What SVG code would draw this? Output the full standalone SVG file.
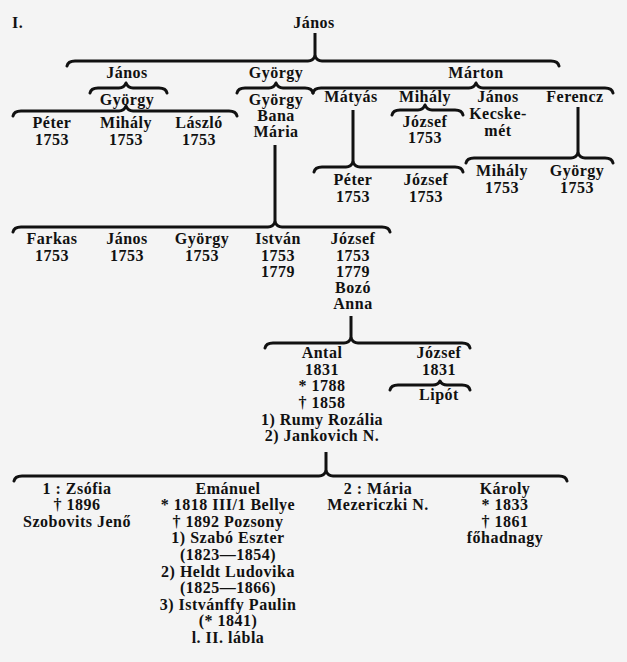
<svg xmlns="http://www.w3.org/2000/svg" width="627" height="662" viewBox="0 0 627 662">
<style>
  .bg { fill: #f4f4f4; }
  text { font-family: "Liberation Serif", "Times New Roman", serif; font-weight: bold; font-size: 16px; letter-spacing: 0.5px; fill: #111; text-anchor: middle; }
  .l { text-anchor: start; }
  .br { fill: none; stroke: #111; stroke-width: 3; stroke-linecap: round; stroke-linejoin: round; }
  .vl { fill: none; stroke: #111; stroke-width: 3; }
</style>
<rect class="bg" x="0" y="0" width="627" height="662"/>

<g id="connectors">
  <path class="vl" d="M315 33 V56"/>
  <path class="br" d="M67 66 Q68 61 75 61 L308 61 Q313 61 315 56 Q317 61 322 61 L551 61 Q558 61 559 66"/>
  <path class="br" d="M90 93 Q91 88 98 88 L119 88 Q124 88 126 83 Q128 88 133 88 L159 88 Q166 88 167 93"/>
  <path class="br" d="M13 116 Q14 111 21 111 L119 111 Q124 111 126 106 Q128 111 133 111 L229 111 Q236 111 237 116"/>
  <path class="br" d="M237 93 Q238 88 245 88 L269 88 Q274 88 276 83 Q278 88 283 88 L305 88 Q312 88 313 93"/>
  <path class="br" d="M313 93 Q314 88 321 88 L469 88 Q474 88 476 83 Q478 88 483 88 L605 88 Q612 88 613 93"/>
  <path class="br" d="M392 115 Q393 110 400 110 L418 110 Q423 110 425 105 Q427 110 432 110 L455 110 Q462 110 463 115"/>
  <path class="vl" d="M353 110 V162"/>
  <path class="br" d="M314 172 Q315 167 322 167 L346 167 Q351 167 353 162 Q355 167 360 167 L455 167 Q462 167 463 172"/>
  <path class="vl" d="M578 107 V153"/>
  <path class="br" d="M466 163 Q467 158 474 158 L571 158 Q576 158 578 153 Q580 158 585 158 L605 158 Q612 158 613 163"/>
  <path class="vl" d="M275 145 V222"/>
  <path class="br" d="M13 232 Q14 227 21 227 L268 227 Q273 227 275 222 Q277 227 282 227 L382 227 Q389 227 390 232"/>
  <path class="vl" d="M351 316 V338"/>
  <path class="br" d="M265 348 Q266 343 273 343 L344 343 Q349 343 351 338 Q353 343 358 343 L462 343 Q469 343 470 348"/>
  <path class="br" d="M390 390 Q391 385 398 385 L433 385 Q438 385 440 381 Q442 385 447 385 L462 385 Q469 385 470 390"/>
  <path class="vl" d="M326 452 V471"/>
  <path class="br" d="M14 481 Q15 476 22 476 L319 476 Q324 476 326 471 Q328 476 333 476 L559 476 Q566 476 567 481"/>
</g>

<g id="title"><text class="l" x="12" y="28">I.</text></g>
<g id="n-janos-root"><text x="314" y="28">János</text></g>

<g id="n-janos"><text x="127" y="78">János</text></g>
<g id="n-gyorgy-j"><text x="127" y="105">György</text></g>
<g id="n-peter"><text x="52" y="128">Péter</text><text x="52" y="145">1753</text></g>
<g id="n-mihaly"><text x="126" y="128">Mihály</text><text x="126" y="145">1753</text></g>
<g id="n-laszlo"><text x="199" y="128">László</text><text x="199" y="145">1753</text></g>

<g id="n-gyorgy"><text x="276" y="78">György</text></g>
<g id="n-gyorgy-bana"><text x="276" y="105">György</text><text x="276" y="121">Bana</text><text x="276" y="137">Mária</text></g>

<g id="n-marton"><text x="476" y="78">Márton</text></g>
<g id="n-matyas"><text x="351" y="102">Mátyás</text></g>
<g id="n-mihaly-m"><text x="425" y="102">Mihály</text></g>
<g id="n-jozsef-m"><text x="425" y="127">József</text><text x="425" y="143">1753</text></g>
<g id="n-janos-k"><text x="498" y="102">János</text><text x="498" y="119">Kecske-</text><text x="498" y="136">mét</text></g>
<g id="n-ferencz"><text x="575" y="102">Ferencz</text></g>
<g id="n-peter-m"><text x="353" y="185">Péter</text><text x="353" y="202">1753</text></g>
<g id="n-jozsef-mm"><text x="426" y="185">József</text><text x="426" y="202">1753</text></g>
<g id="n-mihaly-f"><text x="502" y="176">Mihály</text><text x="502" y="193">1753</text></g>
<g id="n-gyorgy-f"><text x="577" y="176">György</text><text x="577" y="193">1753</text></g>

<g id="n-farkas"><text x="52" y="244">Farkas</text><text x="52" y="261">1753</text></g>
<g id="n-janos-2"><text x="127" y="244">János</text><text x="127" y="261">1753</text></g>
<g id="n-gyorgy-2"><text x="202" y="244">György</text><text x="202" y="261">1753</text></g>
<g id="n-istvan"><text x="278" y="244">István</text><text x="278" y="261">1753</text><text x="278" y="277">1779</text></g>
<g id="n-jozsef-2"><text x="353" y="244">József</text><text x="353" y="261">1753</text><text x="353" y="277">1779</text><text x="353" y="293">Bozó</text><text x="353" y="309">Anna</text></g>

<g id="n-antal"><text x="322" y="358">Antal</text><text x="322" y="375">1831</text><text x="322" y="391">* 1788</text><text x="322" y="408">† 1858</text><text x="322" y="425">1) Rumy Rozália</text><text x="322" y="441">2) Jankovich N.</text></g>
<g id="n-jozsef-3"><text x="439" y="358">József</text><text x="439" y="375">1831</text></g>
<g id="n-lipot"><text x="439" y="400">Lipót</text></g>

<g id="n-zsofia"><text x="77" y="494">1 : Zsófia</text><text x="77" y="510">† 1896</text><text x="77" y="527">Szobovits Jenő</text></g>
<g id="n-emanuel"><text x="228" y="494">Emánuel</text><text x="228" y="510">* 1818 III/1 Bellye</text><text x="228" y="527">† 1892 Pozsony</text><text x="228" y="543">1) Szabó Eszter</text><text x="228" y="560">(1823—1854)</text><text x="228" y="577">2) Heldt Ludovika</text><text x="228" y="593">(1825—1866)</text><text x="228" y="610">3) Istvánffy Paulin</text><text x="228" y="626">(* 1841)</text><text x="228" y="643">l. II. lábla</text></g>
<g id="n-maria"><text x="378" y="494">2 : Mária</text><text x="378" y="510">Mezericzki N.</text></g>
<g id="n-karoly"><text x="505" y="494">Károly</text><text x="505" y="510">* 1833</text><text x="505" y="527">† 1861</text><text x="505" y="543">főhadnagy</text></g>
</svg>
